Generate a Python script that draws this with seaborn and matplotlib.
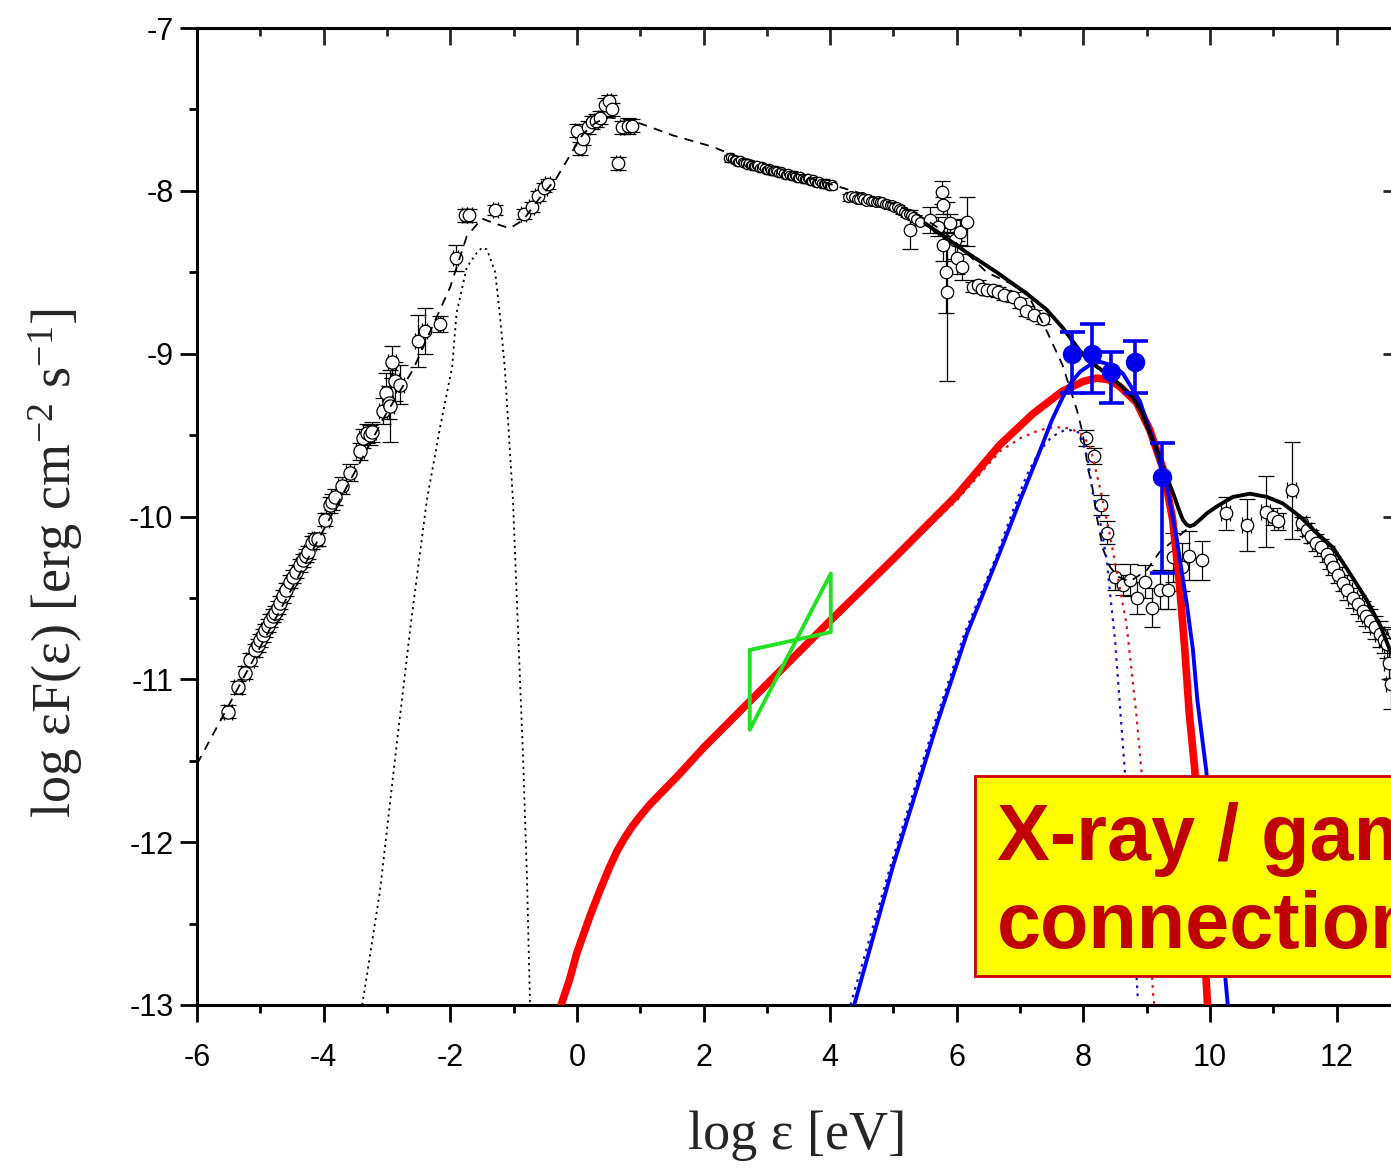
import numpy as np
import pandas as pd
import matplotlib
matplotlib.use("Agg")
import matplotlib.pyplot as plt
import seaborn as sns
from matplotlib.ticker import MultipleLocator
from matplotlib.patches import Rectangle

# ---------------- data (log eV, log erg cm^-2 s^-1) ----------------
# radio / mm points
x_radio = [-5.51, -5.35, -5.24, -5.16, -5.08, -5.04, -5.01, -4.96, -4.93, -4.88, -4.85, -4.80,
           -4.77, -4.72, -4.69, -4.64, -4.59, -4.53, -4.48, -4.44, -4.38, -4.33, -4.28, -4.25,
           -4.18, -4.13, -4.09, -3.98, -3.90, -3.86, -3.82, -3.71, -3.58, -3.43, -3.38, -3.32,
           -3.27, -3.24, -3.06, -3.02, -2.97, -2.95, -2.92, -2.87, -2.79]
y_radio = [-11.20, -11.05, -10.96, -10.88, -10.82, -10.79, -10.76, -10.73, -10.70, -10.67, -10.64, -10.61,
           -10.59, -10.56, -10.53, -10.49, -10.45, -10.40, -10.37, -10.34, -10.30, -10.27, -10.24, -10.22,
           -10.16, -10.14, -10.14, -10.02, -9.93, -9.91, -9.88, -9.81, -9.73, -9.60, -9.52, -9.49,
           -9.50, -9.48, -9.35, -9.24, -9.30, -9.32, -9.05, -9.17, -9.19]
e_radio = [0.04, 0.04, 0.04, 0.04, 0.04, 0.04, 0.04, 0.04, 0.04, 0.04, 0.04, 0.04,
           0.04, 0.04, 0.04, 0.04, 0.04, 0.04, 0.04, 0.04, 0.04, 0.04, 0.04, 0.04,
           0.04, 0.04, 0.04, 0.04, 0.05, 0.05, 0.05, 0.05, 0.05, 0.05, 0.06, 0.06,
           0.06, 0.06, 0.08, 0.12, 0.10, 0.22, 0.10, 0.12, 0.12]

# infrared / submm points
x_ir = [-2.51, -2.40, -2.16, -1.91, -1.77, -1.70, -1.29, -0.84, -0.71, -0.62, -0.52, -0.46]
y_ir = [-8.92, -8.86, -8.82, -8.41, -8.15, -8.15, -8.12, -8.14, -8.10, -8.03, -7.98, -7.96]
e_ir = [0.16, 0.14, 0.05, 0.08, 0.04, 0.04, 0.03, 0.03, 0.03, 0.03, 0.03, 0.03]

# optical / UV points
x_opt = [0.00, 0.05, 0.10, 0.17, 0.24, 0.30, 0.36, 0.44, 0.51, 0.55, 0.65, 0.71, 0.81, 0.87]
y_opt = [-7.63, -7.74, -7.68, -7.61, -7.58, -7.57, -7.55, -7.47, -7.45, -7.50, -7.83, -7.61, -7.60, -7.60]
e_opt = [0.04, 0.04, 0.04, 0.04, 0.04, 0.04, 0.04, 0.04, 0.04, 0.04, 0.04, 0.04, 0.05, 0.04]

# soft X-ray band
x_xr = [2.38, 2.42, 2.45, 2.48, 2.50, 2.53, 2.55, 2.58, 2.60, 2.63, 2.65, 2.68, 2.70, 2.73, 2.75,
        2.78, 2.80, 2.83, 2.85, 2.88, 2.90, 2.93, 2.95, 2.98, 3.00, 3.03, 3.05, 3.08, 3.10, 3.13,
        3.15, 3.18, 3.20, 3.23, 3.25, 3.28, 3.30, 3.33, 3.35, 3.38, 3.40, 3.43, 3.45, 3.48, 3.50,
        3.53, 3.55, 3.58, 3.60, 3.63, 3.65, 3.68, 3.70, 3.73, 3.75, 3.78, 3.80, 3.83, 3.85, 3.88,
        3.90, 3.93, 3.95, 3.98, 4.00, 4.03, 4.05]
y_xr = [-7.80, -7.79, -7.80, -7.81, -7.81, -7.82, -7.82, -7.81, -7.82, -7.83, -7.83, -7.84, -7.83,
        -7.84, -7.84, -7.85, -7.85, -7.84, -7.84, -7.86, -7.86, -7.85, -7.86, -7.87, -7.87, -7.86,
        -7.87, -7.88, -7.88, -7.87, -7.88, -7.89, -7.89, -7.88, -7.89, -7.90, -7.90, -7.89, -7.90,
        -7.91, -7.91, -7.90, -7.91, -7.92, -7.92, -7.91, -7.92, -7.93, -7.93, -7.92, -7.92, -7.94,
        -7.94, -7.93, -7.94, -7.95, -7.95, -7.94, -7.95, -7.96, -7.96, -7.95, -7.96, -7.97, -7.97,
        -7.96, -7.97]

# hard X-ray band
x_hx = [4.28, 4.33, 4.38, 4.42, 4.45, 4.50, 4.52, 4.56, 4.60, 4.64, 4.68, 4.72, 4.75, 4.79, 4.82,
        4.86, 4.90, 4.94, 4.97, 5.01, 5.05, 5.09, 5.12, 5.16, 5.20, 5.24, 5.27, 5.31, 5.35, 5.42]
y_hx = [-8.04, -8.03, -8.04, -8.05, -8.05, -8.04, -8.05, -8.06, -8.05, -8.06, -8.06, -8.07, -8.06,
        -8.07, -8.07, -8.08, -8.08, -8.09, -8.09, -8.10, -8.10, -8.11, -8.12, -8.13, -8.14, -8.14,
        -8.15, -8.16, -8.17, -8.19]

# scattered soft gamma-ray points
x_sg = [5.26, 5.57, 5.70, 5.76, 5.78, 5.78, 5.83, 5.84, 5.90, 5.97, 6.00, 6.05, 6.08, 6.16]
y_sg = [-8.24, -8.18, -8.22, -8.01, -8.09, -8.33, -8.50, -8.62, -8.20, -8.30, -8.41, -8.25, -8.47, -8.19]
e_sg = [0.12, 0.08, 0.06, 0.07, 0.05, 0.10, 0.25, 0.55, 0.06, 0.12, 0.10, 0.08, 0.08, 0.15]

# MeV points
x_mev = [6.25, 6.33, 6.40, 6.48, 6.57, 6.65, 6.75, 6.88, 7.00, 7.10, 7.22, 7.36]
y_mev = [-8.59, -8.58, -8.60, -8.61, -8.61, -8.62, -8.64, -8.65, -8.69, -8.74, -8.76, -8.79]

# GeV points
x_gev = [8.04, 8.16, 8.27, 8.37, 8.50, 8.62, 8.73, 8.84, 8.97, 9.08, 9.21, 9.33, 9.41, 9.55, 9.66, 9.88]
y_gev = [-9.52, -9.63, -9.93, -10.10, -10.37, -10.42, -10.39, -10.50, -10.40, -10.56, -10.45, -10.45,
         -10.25, -10.31, -10.24, -10.27]
e_gev = [0.05, 0.05, 0.06, 0.07, 0.08, 0.06, 0.10, 0.10, 0.10, 0.12, 0.12, 0.12, 0.15, 0.15, 0.15, 0.12]

# TeV points
x_tev = [10.25, 10.58, 10.88, 10.99, 11.08, 11.29, 11.45, 11.53, 11.60, 11.68, 11.76, 11.84, 11.90,
         11.94, 12.02, 12.10, 12.17, 12.25, 12.33, 12.41, 12.47, 12.52, 12.60, 12.68, 12.74, 12.79,
         12.82, 12.85]
y_tev = [-9.98, -10.05, -9.97, -10.00, -10.03, -9.84, -10.04, -10.08, -10.12, -10.16, -10.19, -10.23,
         -10.27, -10.31, -10.36, -10.41, -10.45, -10.50, -10.54, -10.58, -10.61, -10.64, -10.68, -10.72,
         -10.76, -10.78, -10.90, -11.03]
e_tev = [0.10, 0.16, 0.22, 0.05, 0.05, 0.30, 0.04, 0.04, 0.04, 0.05, 0.05, 0.05, 0.05, 0.05, 0.05,
         0.05, 0.06, 0.06, 0.06, 0.06, 0.06, 0.07, 0.07, 0.08, 0.08, 0.09, 0.10, 0.15]

# blue filled points (Fermi)
x_blue = [7.82, 8.13, 8.44, 8.81, 9.24]
y_blue = [-9.00, -9.00, -9.11, -9.05, -9.76]
e_blue_lo = [0.24, 0.24, 0.19, 0.19, 0.59]
e_blue_hi = [0.13, 0.18, 0.12, 0.13, 0.21]

# model curves
x_sync = [-6.0, -5.0, -4.22, -3.0, -2.59, -2.0, -1.74, -1.5, -1.3, -1.06, -0.85, -0.6, -0.32, -0.06,
          0.1, 0.3, 0.5, 0.8, 1.1, 1.52, 2.15, 2.46, 3.0, 3.5, 4.1, 4.6, 5.0, 5.4, 5.8, 6.1, 6.47,
          6.8, 7.1, 7.42, 7.67, 7.9, 7.99, 8.07, 8.15, 8.21, 8.31, 8.42, 8.55, 8.73, 9.0, 9.2, 9.63,
          9.84, 10.1, 10.36, 10.63, 10.9, 11.15, 11.42, 11.68, 11.94, 12.21, 12.47, 12.7, 12.84, 13.0]
y_sync = [-11.52, -10.80, -10.24, -9.36, -9.10, -8.59, -8.28, -8.17, -8.20, -8.23, -8.18, -8.05, -7.92,
          -7.75, -7.65, -7.58, -7.55, -7.56, -7.60, -7.66, -7.73, -7.78, -7.84, -7.90, -7.97, -8.03,
          -8.08, -8.15, -8.25, -8.36, -8.50, -8.56, -8.62, -8.86, -9.07, -9.35, -9.49, -9.70, -9.84,
          -10.00, -10.20, -10.31, -10.37, -10.40, -10.33, -10.22, -10.08, -10.02, -9.94, -9.88, -9.86,
          -9.88, -9.92, -10.00, -10.10, -10.19, -10.35, -10.51, -10.68, -10.82, -10.95]

x_total = [5.5, 5.8, 6.16, 6.63, 7.1, 7.42, 7.67, 7.94, 8.1, 8.25, 8.42, 8.6, 8.78, 8.92, 9.05, 9.16,
           9.26, 9.35, 9.42, 9.5, 9.57, 9.63, 9.68, 9.75, 9.84, 9.95, 10.1, 10.36, 10.63, 10.9, 11.15,
           11.42, 11.68, 11.94, 12.21, 12.47, 12.7, 12.84, 13.0]
y_total = [-8.20, -8.28, -8.38, -8.50, -8.63, -8.73, -8.84, -8.98, -9.05, -9.09, -9.14, -9.20, -9.27,
           -9.36, -9.49, -9.59, -9.70, -9.79, -9.86, -9.95, -10.02, -10.05, -10.06, -10.05, -10.02,
           -9.98, -9.94, -9.88, -9.86, -9.88, -9.92, -10.00, -10.10, -10.19, -10.35, -10.51, -10.68,
           -10.82, -10.95]

x_dust = [-3.39, -3.11, -2.87, -2.62, -2.37, -2.16, -1.97, -1.90, -1.74, -1.58, -1.50, -1.42, -1.29,
          -1.22, -1.14, -1.01, -0.85, -0.79, -0.74]
y_dust = [-13.0, -12.3, -11.48, -10.65, -9.90, -9.45, -9.08, -8.75, -8.47, -8.38, -8.35, -8.36, -8.50,
          -8.75, -9.08, -9.90, -11.48, -12.2, -13.0]

x_red = [-0.25, -0.12, 0.0, 0.21, 0.36, 0.52, 0.64, 0.76, 0.88, 1.0, 1.15, 1.35, 1.6, 2.0, 3.0, 4.0,
         5.0, 6.0, 6.68, 7.2, 7.67, 8.0, 8.21, 8.4, 8.57, 8.84, 9.05, 9.26, 9.41, 9.52, 9.60, 9.67,
         9.76, 9.86, 9.96]
y_red = [-13.0, -12.85, -12.68, -12.45, -12.30, -12.15, -12.05, -11.97, -11.90, -11.84, -11.77, -11.69,
         -11.59, -11.42, -11.03, -10.64, -10.26, -9.87, -9.56, -9.37, -9.23, -9.17, -9.15, -9.16, -9.20,
         -9.30, -9.47, -9.71, -10.02, -10.43, -10.81, -11.2, -11.56, -12.3, -13.0]

x_red_dot = [5.0, 6.0, 6.68, 7.0, 7.3, 7.55, 7.8, 7.95, 8.1, 8.26, 8.37, 8.47, 8.57, 8.68, 8.84, 8.92,
             9.0, 9.10, 9.12]
y_red_dot = [-10.27, -9.90, -9.60, -9.52, -9.47, -9.45, -9.46, -9.49, -9.56, -9.82, -10.02, -10.22,
             -10.43, -10.66, -11.23, -11.58, -12.2, -12.93, -13.0]

x_blue_line = [4.38, 4.99, 5.69, 6.16, 6.68, 7.0, 7.31, 7.5, 7.67, 7.8, 7.95, 8.1, 8.26, 8.44, 8.62,
               8.89, 9.10, 9.32, 9.47, 9.63, 9.73, 9.80, 9.94, 10.1, 10.28]
y_blue_line = [-13.0, -12.15, -11.27, -10.72, -10.22, -9.90, -9.60, -9.41, -9.27, -9.18, -9.11, -9.07,
               -9.05, -9.07, -9.12, -9.29, -9.53, -9.82, -10.13, -10.53, -10.82, -11.13, -11.56, -12.22,
               -13.0]

x_blue_dot = [4.32, 4.95, 5.65, 6.12, 6.62, 6.9, 7.1, 7.3, 7.5, 7.7, 7.85, 7.95, 8.07, 8.15, 8.26,
              8.37, 8.42, 8.50, 8.57, 8.65, 8.75, 8.86]
y_blue_dot = [-13.0, -12.15, -11.27, -10.72, -10.25, -9.95, -9.75, -9.60, -9.51, -9.47, -9.47, -9.49,
              -9.65, -9.86, -10.02, -10.27, -10.47, -10.76, -11.13, -11.54, -12.2, -12.97]

x_bowtie = [2.73, 4.01, 4.01, 2.73, 2.73]
y_bowtie = [-10.82, -10.71, -10.35, -11.31, -10.82]

box_line1 = "X-ray / gamma-ray"
box_line2 = "connection"

# ---------------- style ----------------
sns.set_theme(style="ticks")
plt.rcParams["font.family"] = ["Liberation Sans", "DejaVu Sans"]
plt.rcParams["axes.unicode_minus"] = False
plt.rcParams["mathtext.fontset"] = "custom"
plt.rcParams["mathtext.rm"] = "Liberation Serif"
plt.rcParams["mathtext.it"] = "Liberation Serif:italic"
plt.rcParams["mathtext.bf"] = "Liberation Serif:bold"

W, H = 1391, 1172
fig = plt.figure(figsize=(W / 100, H / 100), dpi=100)
fig.patch.set_facecolor("white")
ax = fig.add_axes([197 / W, 1 - 1005 / H, (1400 - 197) / W, (1005 - 28) / H])
ax.set_facecolor("white")


def line(x, y, **kw):
    df = pd.DataFrame({"x": x, "y": y})
    sns.lineplot(data=df, x="x", y="y", sort=False, estimator=None, ax=ax, legend=False, **kw)


def pts(x, y, e, xe=None, ms=8.5, cap=6):
    ax.errorbar(x, y, yerr=e, xerr=xe, fmt="o", ms=ms, mfc="white", mec="black", mew=0.9,
                ecolor="black", elinewidth=0.9, capsize=cap, capthick=0.9, zorder=2)


# data points (black, open)
pts(x_radio, y_radio, e_radio, xe=0.06, ms=9.5)
pts(x_ir, y_ir, e_ir, xe=0.04, ms=9)
pts(x_opt, y_opt, e_opt, xe=0.03, ms=9)
pts(x_xr, y_xr, 0.02, ms=6, cap=3)
pts(x_hx, y_hx, 0.02, ms=7, cap=4)
pts(x_sg, y_sg, e_sg, ms=9)
pts(x_mev, y_mev, 0.03, ms=9)
pts(x_gev, y_gev, e_gev, ms=9)
pts(x_tev, y_tev, e_tev, xe=0.07, ms=9)

# model curves
line(x_dust, y_dust, color="black", lw=1.3, linestyle=(0, (1.2, 2.2)), zorder=3)
line(x_sync, y_sync, color="black", lw=1.3, linestyle=(0, (5, 4)), zorder=3)
line(x_red_dot, y_red_dot, color="#e01010", lw=1.6, linestyle=(0, (1.2, 2.4)), zorder=3)
line(x_blue_dot, y_blue_dot, color="#1010d0", lw=1.6, linestyle=(0, (1.2, 2.4)), zorder=3)
line(x_red, y_red, color="#ff0000", lw=5.5, zorder=4)
line(x_blue_line, y_blue_line, color="#0000ff", lw=2.8, zorder=5)
line(x_total, y_total, color="black", lw=2.8, zorder=6)
line(x_bowtie, y_bowtie, color="#22e022", lw=2.8, zorder=6)

# blue filled points
ax.errorbar(x_blue, y_blue, yerr=[e_blue_lo, e_blue_hi], fmt="o", ms=13, mfc="#0000ee",
            mec="#0000ee", ecolor="#0000ee", elinewidth=2.6, capsize=9, capthick=2.6, zorder=7)

# axes
ax.set_xlim(-6, 13)
ax.set_ylim(-13, -7)
ax.xaxis.set_major_locator(MultipleLocator(2))
ax.xaxis.set_minor_locator(MultipleLocator(1))
ax.yaxis.set_major_locator(MultipleLocator(1))
ax.yaxis.set_minor_locator(MultipleLocator(0.5))
ax.tick_params(which="both", direction="out", top=False, right=False, width=2, colors="black")
ax.tick_params(which="major", length=12)
ax.tick_params(which="minor", length=6)
ax.tick_params(axis="x", labelsize=22, pad=15)
ax.tick_params(axis="y", labelsize=22, pad=5)
for s in ax.spines.values():
    s.set_linewidth(2.2)
    s.set_color("black")
    s.set_visible(True)

secx = ax.secondary_xaxis("top")
secx.xaxis.set_major_locator(MultipleLocator(2))
secx.xaxis.set_minor_locator(MultipleLocator(1))
secx.tick_params(which="both", direction="in", width=2, labeltop=False, labelbottom=False)
secx.tick_params(which="major", length=12)
secx.tick_params(which="minor", length=6)
secx.spines["top"].set_linewidth(2.2)

secy = ax.secondary_yaxis("right")
secy.yaxis.set_major_locator(MultipleLocator(1))
secy.yaxis.set_minor_locator(MultipleLocator(0.5))
secy.tick_params(which="both", direction="in", width=2, labelright=False, labelleft=False)
secy.tick_params(which="major", length=12)
secy.tick_params(which="minor", length=6)
secy.spines["right"].set_linewidth(2.2)

ax.set_xlabel("log ε [eV]", fontsize=39, family=["Liberation Serif", "DejaVu Serif"])
ax.set_ylabel("log εF(ε) [erg cm$^{-2}$ s$^{-1}$]", fontsize=39,
              family=["Liberation Serif", "DejaVu Serif"])
ax.xaxis.set_label_coords(0.499, -0.108)
ax.yaxis.set_label_coords(-0.093, 0.452)

# annotation box (cropped at the right edge, as in the reference)
fig.patches.append(Rectangle((975 / W, 1 - 976 / H), 0.4, 200 / H, transform=fig.transFigure,
                             facecolor="#ffff00", edgecolor="#cc0000", lw=2, zorder=10))
fig.text(997 / W, 1 - 860 / H, box_line1, fontsize=57, fontweight="bold", color="#c00000",
         va="baseline", ha="left", family=["Liberation Sans", "DejaVu Sans"], zorder=11)
fig.text(997 / W, 1 - 948 / H, box_line2, fontsize=57, fontweight="bold", color="#c00000",
         va="baseline", ha="left", family=["Liberation Sans", "DejaVu Sans"], zorder=11)

fig.savefig("out.png", dpi=100, facecolor="white")
